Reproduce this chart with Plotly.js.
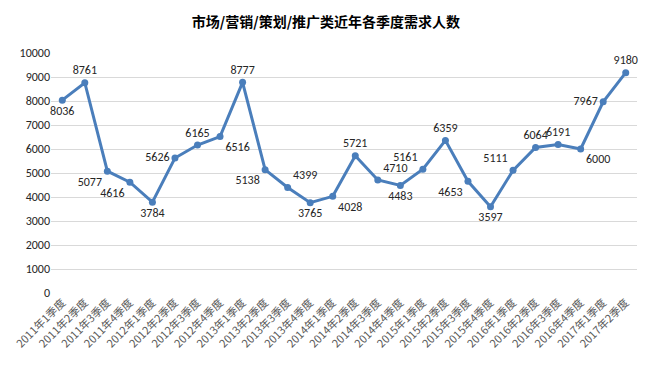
<!DOCTYPE html>
<html><head><meta charset="utf-8">
<script src="https://cdn.plot.ly/plotly-3.0.1.min.js"></script>
<style>html,body{margin:0;padding:0;background:#fff}#c{width:652px;height:371px}</style>
</head><body><div id="c"></div>
<script>
const categories = ["2011年1季度","2011年2季度","2011年3季度","2011年4季度","2012年1季度","2012年2季度","2012年3季度","2012年4季度","2013年1季度","2013年2季度","2013年3季度","2013年4季度","2014年1季度","2014年2季度","2014年3季度","2014年4季度","2015年1季度","2015年2季度","2015年3季度","2015年4季度","2016年1季度","2016年2季度","2016年3季度","2016年4季度","2017年1季度","2017年2季度"];
const demand = [8036,8761,5077,4616,3784,5626,6165,6516,8777,5138,4399,3765,4028,5721,4710,4483,5161,6359,4653,3597,5111,6064,6191,6000,7967,9180];
const labelPos = ["bottom center","top center","bottom left","bottom left","bottom center","middle left","top center","bottom right","top center","bottom left","top right","bottom center","bottom right","top center","top right","bottom center","top left","top center","bottom left","bottom center","top left","top center","top center","bottom right","middle left","top center"];
const yTicks = [0,1000,2000,3000,4000,5000,6000,7000,8000,9000,10000];

Plotly.newPlot('c', [{
  type: 'scatter', mode: 'lines+markers+text',
  x: categories, y: demand,
  text: demand.map(String), textposition: labelPos,
  textfont: {family: 'Calibri, Carlito, "Liberation Sans", sans-serif', size: 12, color: '#262626'},
  line: {color: '#4a7ebb', width: 3},
  marker: {color: '#4a7ebb', size: 7},
  cliponaxis: false, hoverinfo: 'none'
}], {
  width: 652, height: 371,
  margin: {l: 51, r: 15, t: 53, b: 78},
  paper_bgcolor: '#fff', plot_bgcolor: '#fff',
  showlegend: false,
  title: {text: '<b>市场/营销/策划/推广类近年各季度需求人数</b>', x: 0.5, xanchor: 'center', y: 0.94, yanchor: 'middle',
          font: {family: '"Noto Sans CJK SC", sans-serif', size: 14, color: '#000'}},
  xaxis: {type: 'category', range: [-0.5, 25.5], tickangle: -45, showgrid: false, zeroline: false,
          showline: false, ticks: '',
          tickfont: {family: '"Noto Sans CJK SC", sans-serif', size: 11, color: '#595959'}},
  yaxis: {range: [0, 10000], tickvals: yTicks, ticktext: yTicks.map(String), showgrid: true, gridcolor: '#d9d9d9',
          gridwidth: 1, zeroline: false, showline: false, ticks: '',
          tickfont: {family: 'Calibri, Carlito, "Liberation Sans", sans-serif', size: 12, color: '#262626'}}
}, {staticPlot: true});
</script></body></html>
